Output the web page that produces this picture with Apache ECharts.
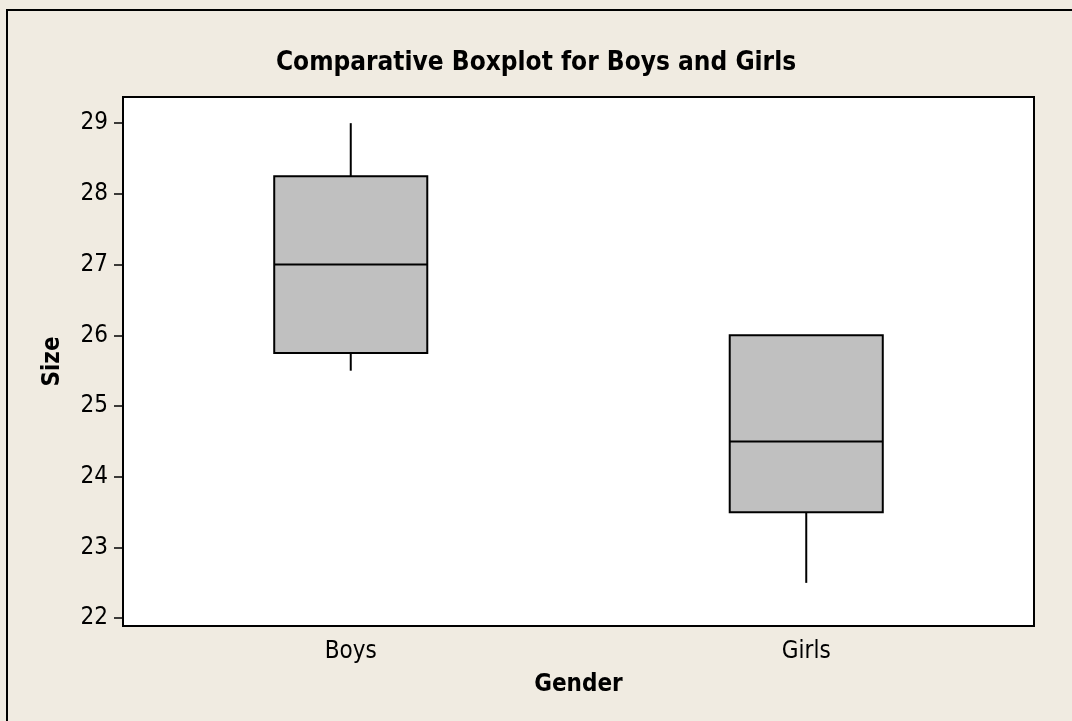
<!DOCTYPE html>
<html>
<head>
<meta charset="utf-8">
<script src="https://cdn.jsdelivr.net/npm/echarts@6/dist/echarts.min.js"></script>
<style>
html,body{margin:0;padding:0;background:#F0EBE1;}
#main{width:1072px;height:721px;}
</style>
</head>
<body>
<div id="main"></div>
<script>
var categories = ['Boys', 'Girls'];
// low whisker, Q1, median, Q3, high whisker
var boysStats = [25.5, 25.75, 27, 28.25, 29];
var girlsStats = [22.5, 23.5, 24.5, 26, 26];
var yTicks = [22, 23, 24, 25, 26, 27, 28, 29];

var font = 'DejaVu Sans Condensed';
var myChart = echarts.init(document.getElementById('main'));

var boxData = [
    [0].concat(boysStats),
    [1].concat(girlsStats)
];

var option = {
    backgroundColor: '#F0EBE1',
    animation: false,
    title: {
        text: 'Comparative Boxplot for Boys and Girls',
        left: 'center',
        top: 45,
        textStyle: {
            fontFamily: font,
            fontWeight: 'bold',
            fontSize: 26,
            color: '#000'
        }
    },
    graphic: [{
        type: 'rect',
        shape: {x: 7, y: 10, width: 1200, height: 900},
        style: {fill: 'none', stroke: '#000', lineWidth: 2},
        silent: true
    }],
    grid: {
        left: 123,
        right: 38,
        top: 97,
        bottom: 95,
        show: true,
        backgroundColor: '#fff',
        borderColor: '#000',
        borderWidth: 2
    },
    xAxis: {
        type: 'category',
        data: categories,
        name: 'Gender',
        nameLocation: 'middle',
        nameGap: 47,
        nameTextStyle: {fontFamily: font, fontWeight: 'bold', fontSize: 24, color: '#000'},
        axisLine: {lineStyle: {color: '#000', width: 2}},
        axisTick: {alignWithLabel: true, length: 9, lineStyle: {color: '#000', width: 1.5}},
        axisLabel: {fontFamily: font, fontSize: 24, color: '#000', margin: 14},
        splitLine: {show: false}
    },
    yAxis: {
        type: 'value',
        min: 21.89,
        max: 29.37,
        name: 'Size',
        nameLocation: 'middle',
        nameGap: 58,
        nameTextStyle: {fontFamily: font, fontWeight: 'bold', fontSize: 24, color: '#000'},
        axisLine: {show: true, lineStyle: {color: '#000', width: 2}},
        axisTick: {show: true, length: 9, customValues: yTicks, lineStyle: {color: '#000', width: 1.5}},
        axisLabel: {fontFamily: font, fontSize: 24, color: '#000', margin: 15, customValues: yTicks},
        splitLine: {show: false}
    },
    series: [{
        type: 'custom',
        data: boxData,
        encode: {x: 0, y: [1, 2, 3, 4, 5]},
        renderItem: function (params, api) {
            var cx = api.coord([api.value(0), 0])[0];
            var half = api.size([1, 0])[0] * 0.336 / 2;
            var yLow = api.coord([api.value(0), api.value(1)])[1];
            var yQ1 = api.coord([api.value(0), api.value(2)])[1];
            var yMed = api.coord([api.value(0), api.value(3)])[1];
            var yQ3 = api.coord([api.value(0), api.value(4)])[1];
            var yHigh = api.coord([api.value(0), api.value(5)])[1];
            var line = {stroke: '#000', lineWidth: 2};
            return {
                type: 'group',
                children: [
                    {type: 'line', shape: {x1: cx, y1: yHigh, x2: cx, y2: yQ3}, style: line},
                    {type: 'line', shape: {x1: cx, y1: yQ1, x2: cx, y2: yLow}, style: line},
                    {type: 'rect', shape: {x: cx - half, y: yQ3, width: half * 2, height: yQ1 - yQ3},
                        style: {fill: '#C0C0C0', stroke: '#000', lineWidth: 2}},
                    {type: 'line', shape: {x1: cx - half, y1: yMed, x2: cx + half, y2: yMed}, style: line}
                ]
            };
        }
    }]
};

myChart.setOption(option);
</script>
</body>
</html>
